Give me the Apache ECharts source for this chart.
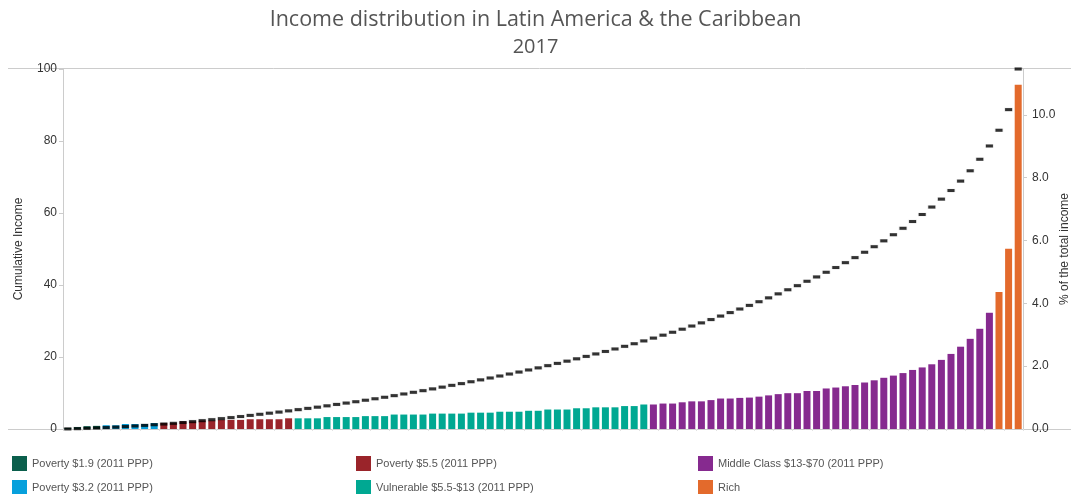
<!DOCTYPE html>
<html>
<head>
<meta charset="utf-8">
<script src="https://cdn.jsdelivr.net/npm/echarts@6/dist/echarts.min.js"></script>
<style>
  html, body { margin: 0; padding: 0; background: #fff; }
  #chart { width: 1071px; height: 494px; }
</style>
</head>
<body>
<div id="chart"></div>
<script>
// ---- Data ----
const titleText = 'Income distribution in Latin America & the Caribbean';
const subtitleText = '2017';

const groupNames = [
  'Poverty $1.9 (2011 PPP)',
  'Poverty $3.2 (2011 PPP)',
  'Poverty $5.5 (2011 PPP)',
  'Vulnerable $5.5-$13 (2011 PPP)',
  'Middle Class $13-$70 (2011 PPP)',
  'Rich'
];
// number of percentiles in each group (left to right)
const groupSizes = [4, 6, 14, 37, 36, 3];

// % of the total income held by each percentile (1..100)
const incomeShare = [
  0.03, 0.06, 0.09, 0.10,
  0.12, 0.12, 0.16, 0.16, 0.16, 0.19,
  0.19, 0.19, 0.24, 0.24, 0.27, 0.27, 0.29, 0.29, 0.29, 0.31, 0.31, 0.31, 0.31, 0.34,
  0.34, 0.34, 0.34, 0.38, 0.38, 0.38, 0.38, 0.41, 0.41, 0.41, 0.46, 0.46, 0.46, 0.46,
  0.49, 0.49, 0.49, 0.49, 0.52, 0.52, 0.52, 0.55, 0.55, 0.55, 0.58, 0.58, 0.62, 0.62,
  0.62, 0.66, 0.66, 0.69, 0.69, 0.69, 0.73, 0.73, 0.78,
  0.78, 0.81, 0.81, 0.85, 0.88, 0.88, 0.92, 0.97, 0.97, 0.99, 1.00, 1.03, 1.07, 1.11,
  1.14, 1.14, 1.21, 1.21, 1.29, 1.32, 1.36, 1.40, 1.48, 1.55, 1.63, 1.70, 1.78, 1.88,
  1.96, 2.06, 2.20, 2.39, 2.62, 2.87, 3.19, 3.70,
  4.36, 5.74, 10.96
];

// cumulative income (%) at each percentile
const cumulativeIncome = [
  0.03, 0.09, 0.18, 0.28, 0.40, 0.52, 0.68, 0.84, 1.00, 1.19,
  1.38, 1.57, 1.81, 2.05, 2.32, 2.59, 2.88, 3.17, 3.46, 3.77,
  4.08, 4.39, 4.70, 5.04, 5.38, 5.72, 6.06, 6.44, 6.82, 7.20,
  7.58, 7.99, 8.40, 8.81, 9.27, 9.73, 10.19, 10.65, 11.14, 11.63,
  12.12, 12.61, 13.13, 13.65, 14.17, 14.72, 15.27, 15.82, 16.40, 16.98,
  17.60, 18.22, 18.84, 19.50, 20.16, 20.85, 21.54, 22.23, 22.96, 23.69,
  24.47, 25.25, 26.06, 26.87, 27.72, 28.60, 29.48, 30.40, 31.37, 32.34,
  33.33, 34.33, 35.36, 36.43, 37.54, 38.68, 39.82, 41.03, 42.24, 43.53,
  44.85, 46.21, 47.61, 49.09, 50.64, 52.27, 53.97, 55.75, 57.63, 59.59,
  61.65, 63.85, 66.24, 68.86, 71.73, 74.92, 78.62, 82.98, 88.72, 100.00
];

const leftTicks = [0, 20, 40, 60, 80, 100];
const rightTicks = [0, 2, 4, 6, 8, 10];

// ---- Styles ----
const groupColors = ['#0b5f4c', '#07a0dc', '#9a242a', '#00a892', '#862a8f', '#e36a2c'];
const axisGray = '#cccccc';
const labelColor = '#333333';
const fontFamily = '"Liberation Sans", Arial, sans-serif';

// ---- Build ----
const categories = incomeShare.map((_, i) => String(i + 1));
const groupOf = [];
groupSizes.forEach((n, g) => { for (let k = 0; k < n; k++) groupOf.push(g); });

const barSeries = groupNames.map((name, g) => ({
  name: name,
  type: 'bar',
  yAxisIndex: 1,
  stack: 'share',
  barWidth: 7,
  itemStyle: { color: groupColors[g] },
  emphasis: { disabled: true },
  data: incomeShare.map((v, i) => (groupOf[i] === g ? v : '-'))
}));

const legendStyle = {
  orient: 'vertical',
  top: 456,
  height: 60,
  padding: 0,
  itemWidth: 15,
  itemHeight: 15,
  itemGap: 9,
  icon: 'rect',
  selectedMode: false,
  textStyle: { color: '#555', fontSize: 11, fontFamily: fontFamily }
};

const chart = echarts.init(document.getElementById('chart'), null, { renderer: 'canvas' });
chart.setOption({
  animation: false,
  backgroundColor: '#ffffff',
  textStyle: { fontFamily: fontFamily },
  title: [
    { text: titleText, left: 'center', top: 4,
      textStyle: { fontSize: 21.5, fontWeight: 'normal', color: '#555', fontFamily: '"Open Sans", sans-serif' } },
    { text: subtitleText, left: 'center', top: 32,
      textStyle: { fontSize: 20, fontWeight: 'normal', color: '#555', fontFamily: '"Open Sans", sans-serif' } }
  ],
  legend: [
    Object.assign({}, legendStyle, { left: 12, data: [groupNames[0], groupNames[1]] }),
    Object.assign({}, legendStyle, { left: 356, data: [groupNames[2], groupNames[3]] }),
    Object.assign({}, legendStyle, { left: 698, data: [groupNames[4], groupNames[5]] })
  ],
  grid: { left: 63, right: 48, top: 69, bottom: 65, containLabel: false, outerBoundsMode: 'none' },
  xAxis: {
    type: 'category',
    data: categories,
    boundaryGap: true,
    axisLine: { show: false },
    axisTick: { show: true, length: 2, lineStyle: { color: '#e2e2e2' } },
    axisLabel: { show: false },
    splitLine: { show: false }
  },
  yAxis: [
    {
      type: 'value',
      position: 'left',
      min: 0, max: 100, interval: 20,
      name: 'Cumulative Income',
      nameLocation: 'middle',
      nameGap: 38,
      nameRotate: 90,
      nameMoveOverlap: false,
      nameTextStyle: { color: labelColor, fontSize: 12, fontFamily: fontFamily },
      axisLine: { show: true, lineStyle: { color: axisGray } },
      axisTick: { show: true, length: 4, lineStyle: { color: axisGray }, customValues: leftTicks },
      axisLabel: { color: labelColor, fontSize: 12, margin: 6, customValues: leftTicks },
      splitLine: { show: false }
    },
    {
      type: 'value',
      position: 'right',
      min: 0, max: 11.46, interval: 2,
      name: '% of the total income',
      nameLocation: 'middle',
      nameGap: 36,
      nameRotate: 90,
      nameMoveOverlap: false,
      nameTextStyle: { color: labelColor, fontSize: 12, fontFamily: fontFamily },
      axisLine: { show: true, lineStyle: { color: axisGray } },
      axisTick: { show: true, length: 4, lineStyle: { color: axisGray }, customValues: rightTicks },
      axisLabel: {
        color: labelColor, fontSize: 12, margin: 9,
        customValues: rightTicks,
        formatter: v => Number(v).toFixed(1)
      },
      splitLine: { show: false }
    }
  ],
  graphic: [
    { type: 'line', shape: { x1: 8, y1: 68.5, x2: 1071, y2: 68.5 }, style: { stroke: axisGray, lineWidth: 1 }, silent: true },
    { type: 'line', shape: { x1: 8, y1: 429.5, x2: 1071, y2: 429.5 }, style: { stroke: axisGray, lineWidth: 1 }, silent: true }
  ],
  series: barSeries.concat([{
    name: 'Cumulative Income',
    type: 'scatter',
    yAxisIndex: 0,
    symbol: 'rect',
    symbolSize: [7, 3],
    itemStyle: { color: '#000', borderColor: 'rgba(0,0,0,0.15)', borderWidth: 1 },
    emphasis: { disabled: true },
    z: 5,
    data: cumulativeIncome
  }])
});
</script>
</body>
</html>
